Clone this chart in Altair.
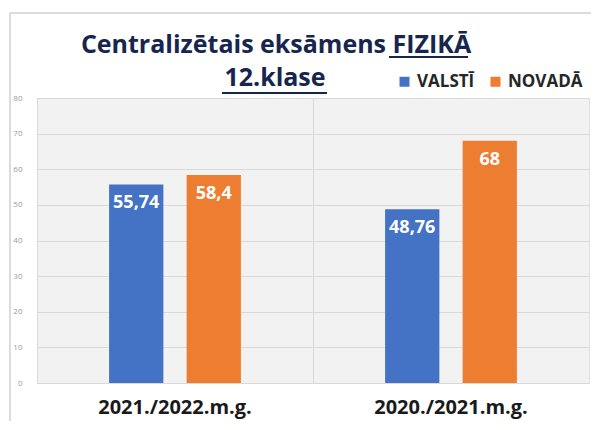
import altair as alt
import pandas as pd

years = ["2021./2022.m.g.", "2020./2021.m.g."]
series = ["VALSTĪ", "NOVADĀ"]
valsti = [55.74, 48.76]
novada = [58.4, 68]
labels_valsti = ["55,74", "48,76"]
labels_novada = ["58,4", "68"]
colors = ["#4472C4", "#ED7D31"]
y_ticks = [0, 10, 20, 30, 40, 50, 60, 70, 80]
title_line1 = "Centralizētais eksāmens FIZIKĀ"
title_line2 = "12.klase"

rows = []
for i, yr in enumerate(years):
    rows.append({"year": yr, "series": series[0], "value": valsti[i], "label": labels_valsti[i]})
    rows.append({"year": yr, "series": series[1], "value": novada[i], "label": labels_novada[i]})
df = pd.DataFrame(rows)

W, H = 552, 285
FONT = "Open Sans"
NAVY = "#17264f"

x = alt.X("year:N", sort=years,
          scale=alt.Scale(paddingInner=0, paddingOuter=0),
          axis=alt.Axis(title=None, labelAngle=0, labelFont=FONT, labelFontWeight="bold",
                        labelFontSize=20, labelColor="#1a1a1a", labelPadding=24,
                        labelBaseline="middle",
                        ticks=False, domain=False, grid=True, gridColor="#d9d9d9",
                        bandPosition=0))
xo = alt.XOffset("series:N", sort=series, scale=alt.Scale(paddingInner=0.3, paddingOuter=0.93))
y = alt.Y("value:Q", scale=alt.Scale(domain=[0, 80]),
          axis=alt.Axis(title=None, values=y_ticks, ticks=False, domain=False,
                        labelFontSize=8, labelColor="#999999", labelPadding=15,
                        labelFont=FONT, gridColor="#d9d9d9"))
color = alt.Color("series:N", sort=series,
                  scale=alt.Scale(domain=series, range=colors),
                  legend=alt.Legend(orient="none", legendX=359, legendY=-25,
                                    direction="horizontal", title=None,
                                    symbolType="square", symbolSize=100,
                                    symbolStrokeWidth=0,
                                    labelFont=FONT, labelFontWeight="bold",
                                    labelFontSize=17, labelColor="#262626",
                                    columnPadding=12))

base = alt.Chart(df)
bars = base.mark_bar().encode(x=x, xOffset=xo, y=y, color=color)
texts = base.mark_text(dy=19, baseline="middle", color="white", fontWeight="bold",
                       fontSize=18, font=FONT).encode(x=x, xOffset=xo, y=y, text="label:N")

tdf = pd.DataFrame({"t1": [title_line1], "t2": [title_line2]})
t1 = alt.Chart(tdf).mark_text(font=FONT, fontWeight="bold", fontSize=25, color=NAVY,
                              baseline="middle", align="center").encode(
    x=alt.value(239), y=alt.value(-53), text="t1:N")
t2 = alt.Chart(tdf).mark_text(font=FONT, fontWeight="bold", fontSize=25, color=NAVY,
                              baseline="middle", align="center").encode(
    x=alt.value(238), y=alt.value(-20), text="t2:N")
u1 = alt.Chart(tdf).mark_rule(color=NAVY, strokeWidth=2).encode(
    x=alt.value(352), x2=alt.value(431), y=alt.value(-41))
u2 = alt.Chart(tdf).mark_rule(color=NAVY, strokeWidth=2).encode(
    x=alt.value(185), x2=alt.value(290), y=alt.value(-5))
f1 = alt.Chart(tdf).mark_rule(color="#d0d0d0", strokeWidth=1.5).encode(
    x=alt.value(-27), y=alt.value(-85), y2=alt.value(H + 40))
f2 = alt.Chart(tdf).mark_rule(color="#d0d0d0", strokeWidth=1.5).encode(
    x=alt.value(-27), x2=alt.value(W + 10), y=alt.value(-85))

chart = alt.layer(bars, texts, t1, t2, u1, u2, f1, f2).properties(
    width=W, height=H,
    autosize=alt.AutoSizeParams(type="none"),
    padding={"left": 29, "top": 90, "right": 2, "bottom": 38},
    background="white",
).configure_view(fill="#f2f2f2", stroke="#e0e0e0")

chart.save("out.html", embed_options={"renderer": "svg", "actions": False})
